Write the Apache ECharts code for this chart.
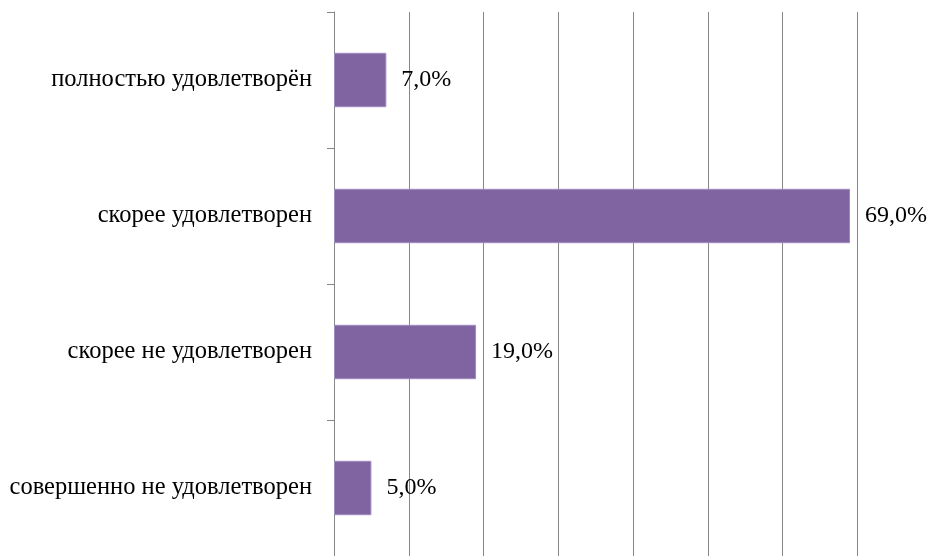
<!DOCTYPE html>
<html><head><meta charset="utf-8">
<script src="https://cdn.jsdelivr.net/npm/echarts@6/dist/echarts.min.js"></script>
<style>html,body{margin:0;padding:0;background:#fff}#c{width:929px;height:556px}</style>
</head><body><div id="c"></div>
<script>
const categories = ['совершенно не удовлетворен','скорее не удовлетворен','скорее удовлетворен','полностью удовлетворён'];
const values = [5.0, 19.0, 69.0, 7.0];
const xTicks = [0,10,20,30,40,50,60,70];

const chart = echarts.init(document.getElementById('c'));
const font = '"Liberation Serif","Times New Roman",serif';
chart.setOption({
  animation:false,
  grid:{left:334, right:929-857.5, top:12, bottom:-4, containLabel:false},
  xAxis:{type:'value', min:xTicks[0], max:xTicks[xTicks.length-1], interval:10,
    axisLabel:{show:false}, axisTick:{show:false}, axisLine:{show:false},
    splitLine:{show:true, lineStyle:{color:'#868686', width:1}}},
  yAxis:{type:'category', data:categories,
    axisLine:{show:true, lineStyle:{color:'#868686', width:1}},
    axisTick:{show:true, length:7, inside:false, lineStyle:{color:'#868686'}},
    axisLabel:{color:'#000', fontFamily:font, fontSize:24.5, margin:22, padding:[3,0,0,0]}},
  series:[{type:'bar', data:values, barWidth:'40%',
    itemStyle:{color:'#8064A2', borderColor:'#a08cc0', borderWidth:1},
    label:{show:true, position:'right', distance:15, color:'#000', fontFamily:font, fontSize:24,
      formatter:p=>p.value.toFixed(1).replace('.',',')+'%'}}]
});
</script></body></html>
